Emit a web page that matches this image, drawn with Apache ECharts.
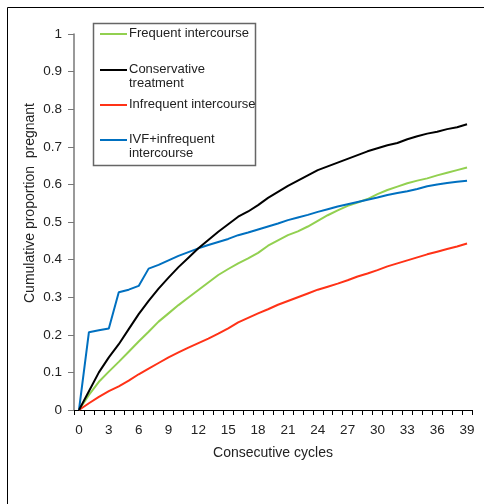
<!DOCTYPE html>
<html><head><meta charset="utf-8">
<script src="https://cdn.jsdelivr.net/npm/echarts@6/dist/echarts.min.js"></script>
<style>html,body{margin:0;padding:0;background:#fff;}#c{width:484px;height:504px;}</style>
</head><body><div id="c"></div>
<script>
var cycles = [];
for (var k = 0; k <= 39; k++) cycles.push(String(k));

var seriesNames = ['Frequent intercourse', 'Conservative\ntreatment', 'Infrequent intercourse', 'IVF+infrequent\nintercourse'];
var seriesColors = ['#92D050', '#000000', '#FF3217', '#0070C0'];

var frequent = [0,0.04,0.075,0.102,0.128,0.155,0.182,0.208,0.235,0.257,0.279,0.299,0.319,0.339,0.359,0.375,0.39,0.403,0.418,0.437,0.451,0.465,0.475,0.488,0.503,0.518,0.531,0.543,0.552,0.561,0.574,0.585,0.594,0.603,0.61,0.616,0.624,0.631,0.638,0.645];
var conservative = [0,0.05,0.10,0.14,0.175,0.215,0.255,0.29,0.323,0.352,0.38,0.405,0.43,0.452,0.474,0.494,0.514,0.528,0.545,0.564,0.58,0.596,0.61,0.624,0.638,0.648,0.658,0.668,0.678,0.688,0.696,0.704,0.71,0.72,0.728,0.735,0.74,0.747,0.752,0.76];
var infrequent = [0,0.018,0.035,0.05,0.063,0.078,0.095,0.11,0.125,0.14,0.153,0.166,0.178,0.19,0.203,0.217,0.233,0.245,0.257,0.268,0.28,0.29,0.3,0.31,0.32,0.328,0.336,0.345,0.355,0.363,0.372,0.382,0.39,0.398,0.406,0.414,0.421,0.428,0.435,0.443];
var ivf = [0,0.207,0.212,0.217,0.313,0.32,0.33,0.376,0.386,0.398,0.41,0.42,0.43,0.439,0.447,0.455,0.465,0.472,0.48,0.488,0.496,0.505,0.512,0.519,0.527,0.534,0.541,0.547,0.553,0.559,0.565,0.572,0.577,0.582,0.588,0.595,0.6,0.604,0.607,0.61];

var allData = [frequent, conservative, infrequent, ivf];
var FONT = '"Liberation Sans", Arial, sans-serif';

var chart = echarts.init(document.getElementById('c'), null, {renderer: 'canvas'});

var legendRows = [34, 70, 105, 140];
var graphics = [
  {type: 'rect', shape: {x: 7.5, y: 7.5, width: 490, height: 510}, style: {fill: 'none', stroke: '#000', lineWidth: 1}, z: 0, silent: true},
  {type: 'rect', shape: {x: 93.5, y: 23.5, width: 162, height: 142}, style: {fill: '#fff', stroke: '#666', lineWidth: 1.5}, z: 10},
  {type: 'text', x: 30, y: 203, rotation: Math.PI / 2, style: {text: 'Cumulative proportion  pregnant', font: '14px ' + FONT, fill: '#222', align: 'center', verticalAlign: 'middle'}, z: 10}
];
for (var i = 0; i < seriesNames.length; i++) {
  graphics.push({type: 'line', shape: {x1: 100, y1: legendRows[i], x2: 127, y2: legendRows[i]}, style: {stroke: seriesColors[i], lineWidth: 2}, z: 11});
  graphics.push({type: 'text', x: 129, y: legendRows[i] - 7, style: {text: seriesNames[i], font: '13px ' + FONT, fill: '#222', lineHeight: 13.5, verticalAlign: 'top'}, z: 11});
}

var series = [];
for (var j = 0; j < allData.length; j++) {
  series.push({
    name: seriesNames[j], type: 'line', data: allData[j], symbol: 'none', smooth: false,
    lineStyle: {color: seriesColors[j], width: 2}, itemStyle: {color: seriesColors[j]}, z: 3 + (j === 1 ? 1 : 0)
  });
}

chart.setOption({
  animation: false,
  backgroundColor: '#fff',
  grid: {left: 74, right: 12, top: 34, bottom: 94, containLabel: false},
  xAxis: {
    type: 'category', data: cycles, boundaryGap: true,
    name: 'Consecutive cycles', nameLocation: 'middle', nameGap: 36,
    nameTextStyle: {fontFamily: FONT, fontSize: 14, color: '#222'},
    axisLine: {lineStyle: {color: '#000', width: 1}},
    axisTick: {show: true, interval: 0, length: 5, lineStyle: {color: '#000'}},
    axisLabel: {interval: 2, fontFamily: FONT, fontSize: 13.5, color: '#222', margin: 13},
    splitLine: {show: false}
  },
  yAxis: {
    type: 'value', min: 0, max: 1, interval: 0.1,
    axisLine: {show: true, lineStyle: {color: '#777', width: 1.5}},
    axisTick: {show: true, length: 6, lineStyle: {color: '#777'}},
    axisLabel: {fontFamily: FONT, fontSize: 13.5, color: '#222', margin: 12},
    splitLine: {show: false}
  },
  graphic: graphics,
  series: series
});
</script></body></html>
